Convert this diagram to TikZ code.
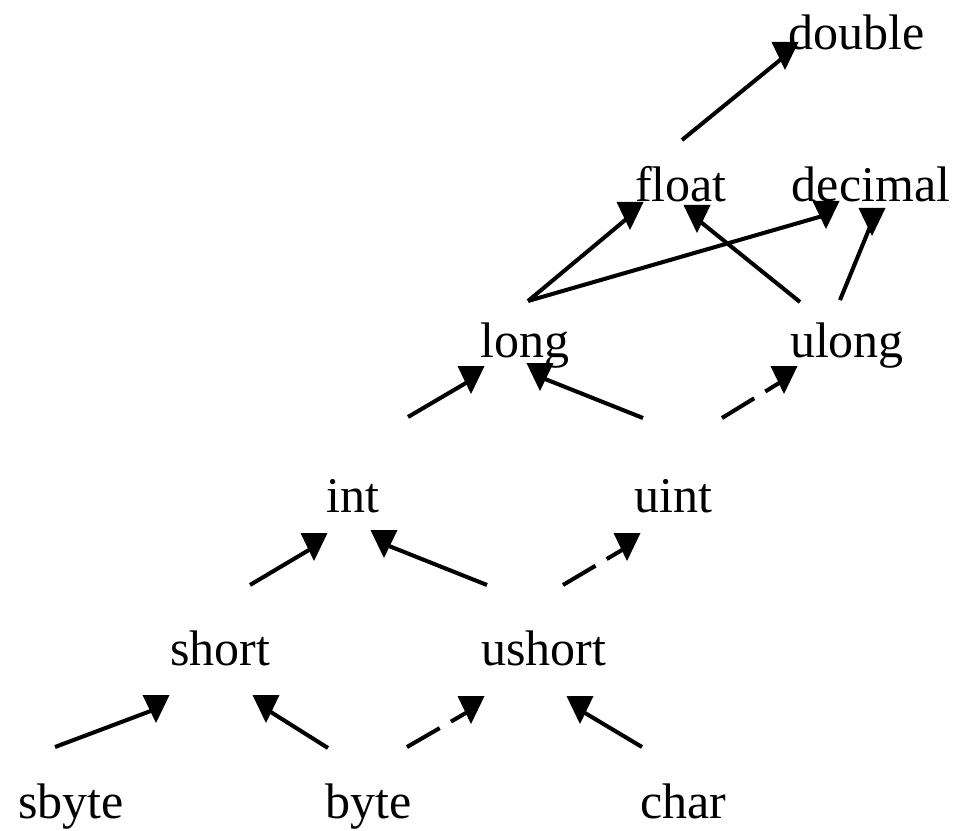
\documentclass[tikz,border=0pt]{standalone}
\usepackage{fontspec}
\setmainfont{Liberation Serif}
\usetikzlibrary{calc}

\tikzset{
  % flat topped head, as in the picture
  head/.pic={\fill (-13.5,-14) -- (13.5,-14) -- (0,14) -- cycle;},
}

\begin{document}
\begin{tikzpicture}[x=0.02cm, y=-0.02cm,
    tname/.style={anchor=base, inner sep=0pt, font=\fontsize{28.45}{34}\selectfont},
    link/.style={line width=2.3pt},
    broken/.style={link, dash pattern=on 21.5pt off 7.4pt on 40pt off 40pt}]
  \useasboundingbox (0,0) rectangle (963,831);

  % top levels
  \node[tname] (double) at (857,50) {double};
  \node[tname] (float) at (681,202) {float};
  \node[tname] (decimal) at (871,202) {decimal};
  \node[tname] (long) at (525,357) {long};
  \node[tname] (ulong) at (847,357) {ulong};

  % middle levels
  \node[tname] (int) at (353,512) {int};
  \node[tname] (uint) at (673,512) {uint};
  \node[tname] (short) at (220,665) {short};
  \node[tname] (ushort) at (544,665) {ushort};

  % bottom row
  \node[tname] (sbyte) at (71,818) {sbyte};
  \node[tname] (byte) at (369,818) {byte};
  \node[tname] (char) at (683,818) {char};

  % float, long, ulong upwards
  \draw[link] ($(float.base)+(1,-62)$) -- ($(double.base)+(-72,6)$) pic {head};
  \draw[link] ($(long.base)+(3,-56)$) -- ($(float.base)+(-51,14)$) pic {head};
  \draw[link] ($(long.base)+(3,-56)$) -- ($(decimal.base)+(-45,13)$) pic {head};
  \draw[link] ($(ulong.base)+(-47,-55)$) -- ($(float.base)+(16,17)$) pic {head};
  \draw[link] ($(ulong.base)+(-7,-57)$) -- ($(decimal.base)+(1,20)$) pic {head};

  % int, uint
  \draw[link] ($(int.base)+(55,-95)$) -- ($(long.base)+(-54,23)$) pic {head};
  \draw[link] ($(uint.base)+(-30,-94)$) -- ($(long.base)+(15,20)$) pic {head};
  \draw[broken] ($(uint.base)+(49,-94)$) -- ($(ulong.base)+(-63,23)$) pic {head};

  % short, ushort
  \draw[link] ($(short.base)+(30,-80)$) -- ($(int.base)+(-39,35)$) pic {head};
  \draw[link] ($(ushort.base)+(-57,-80)$) -- ($(int.base)+(31,32)$) pic {head};
  \draw[broken] ($(ushort.base)+(19,-80)$) -- ($(uint.base)+(-46,35)$) pic {head};

  % sbyte, byte, char
  \draw[link] ($(sbyte.base)+(-16,-71)$) -- ($(short.base)+(-64,44)$) pic {head};
  \draw[link] ($(byte.base)+(-41,-70)$) -- ($(short.base)+(46,44)$) pic {head};
  \draw[broken] ($(byte.base)+(38,-71)$) -- ($(ushort.base)+(-73,45)$) pic {head};
  \draw[link] ($(char.base)+(-41,-71)$) -- ($(ushort.base)+(36,45)$) pic {head};
\end{tikzpicture}
\end{document}
